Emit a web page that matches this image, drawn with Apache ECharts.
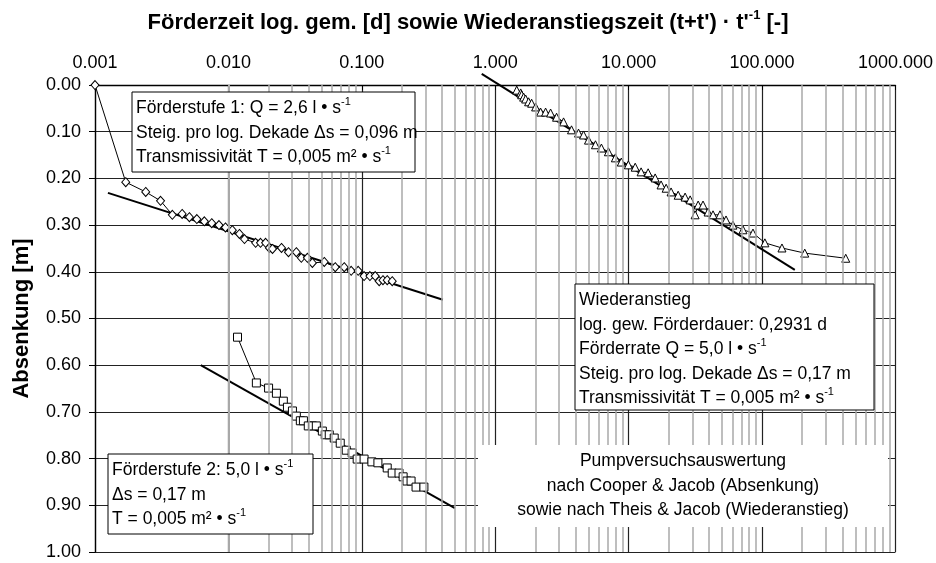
<!DOCTYPE html>
<html>
<head>
<meta charset="utf-8">
<script src="https://cdn.jsdelivr.net/npm/echarts@6/dist/echarts.min.js"></script>
<style>
  html, body { margin: 0; padding: 0; background: #fff; }
  #chart { width: 936px; height: 563px; }
</style>
</head>
<body>
<div id="chart"></div>
<script>
// Förderstufe 1 (Rauten)
const stufe1X = [0.001, 0.0017, 0.0024, 0.0031, 0.0038, 0.0045, 0.0051, 0.0058, 0.0066, 0.0075,
  0.0085, 0.0095, 0.0107, 0.0121, 0.0132, 0.0160, 0.0174, 0.0190, 0.0203, 0.0214, 0.0250, 0.0282,
  0.0323, 0.0352, 0.0391, 0.0426, 0.0523, 0.0632, 0.0738, 0.0832, 0.0939, 0.104, 0.115, 0.126,
  0.135, 0.144, 0.155, 0.169]
const stufe1Y = [0.000, 0.208, 0.229, 0.248, 0.278, 0.276, 0.283, 0.287, 0.292, 0.296,
  0.300, 0.305, 0.311, 0.319, 0.330, 0.338, 0.338, 0.338, 0.349, 0.351, 0.349, 0.358,
  0.358, 0.370, 0.370, 0.381, 0.379, 0.390, 0.390, 0.398, 0.398, 0.409, 0.409, 0.409,
  0.420, 0.418, 0.418, 0.420]

// Förderstufe 2 (Quadrate)
const stufe2X = [0.0117, 0.0162, 0.0200, 0.0229, 0.0258, 0.0277, 0.0302, 0.0323, 0.0346, 0.0365,
  0.0397, 0.0426, 0.0456, 0.0506, 0.0532, 0.0570, 0.0621, 0.0689, 0.0764, 0.0847, 0.0923, 0.104,
  0.119, 0.132, 0.155, 0.169, 0.190, 0.204, 0.218, 0.234, 0.255, 0.292]
const stufe2Y = [0.540, 0.638, 0.649, 0.660, 0.677, 0.690, 0.698, 0.709, 0.719, 0.719,
  0.730, 0.730, 0.730, 0.741, 0.749, 0.749, 0.756, 0.767, 0.782, 0.788, 0.801, 0.801,
  0.807, 0.809, 0.820, 0.831, 0.831, 0.839, 0.848, 0.848, 0.861, 0.861]

// Wiederanstieg (Dreiecke)
const wiederX = [1.449, 1.552, 1.578, 1.633, 1.690, 1.779, 1.874, 2.008, 2.188, 2.385, 2.600, 2.882,
  3.252, 3.73, 4.21, 4.59, 5.00, 5.64, 6.25, 7.05, 7.95, 8.81, 9.95, 11.2, 12.4, 14.0, 15.8, 17.5,
  19.1, 20.8, 23.5, 26.5, 28.9, 31.5, 33.2, 36.1, 39.4, 42.9, 48.4, 53.7, 60.5, 71.9, 85.5, 105,
  141, 209, 424]
const wiederY = [0.011, 0.017, 0.021, 0.026, 0.030, 0.036, 0.039, 0.047, 0.058, 0.058, 0.060, 0.069,
  0.079, 0.096, 0.103, 0.107, 0.118, 0.128, 0.135, 0.143, 0.156, 0.165, 0.171, 0.176, 0.186, 0.188,
  0.199, 0.214, 0.221, 0.229, 0.236, 0.240, 0.246, 0.278, 0.257, 0.257, 0.272, 0.278, 0.278, 0.289,
  0.300, 0.310, 0.317, 0.338, 0.349, 0.360, 0.371]

// Ausgleichsgeraden (Anfang, Ende)
const fit1X = [0.00125, 0.405]
const fit1Y = [0.231, 0.460]
const fit2X = [0.0062, 0.498]
const fit2Y = [0.600, 0.906]
const fit3X = [0.792, 176]
const fit3Y = [-0.024, 0.396]

// Zwischenlinien 2..9 je Dekade
const decades = [0.001, 0.01, 0.1, 1, 10, 100]
const minorSteps = [2, 3, 4, 5, 6, 7, 8, 9]

const FONT = "'Liberation Sans', Arial, sans-serif"
const pairs = (xs, ys) => xs.map((x, i) => [x, ys[i]])

const minorLines = []
decades.forEach(d => minorSteps.forEach(k => minorLines.push({ xAxis: +(d * k).toPrecision(6) })))

const chart = echarts.init(document.getElementById('chart'))

const txt = { fontSize: 17.5, fontFamily: FONT, color: '#000', lineHeight: 24.5 }
const sup = { fontSize: 11, fontFamily: FONT, color: '#000', verticalAlign: 'top', lineHeight: 24.5 }

// Textkasten mit Rahmen
const box = (x, y, w, h, text, border) => ({
  type: 'group',
  x: x,
  y: y,
  children: [
    {
      type: 'rect',
      z: 100,
      shape: { x: 0, y: 0, width: w, height: h },
      style: { fill: '#fff', stroke: border ? '#000' : null, lineWidth: 1 }
    },
    {
      type: 'text',
      z: 101,
      x: 4,
      y: 4,
      style: { text: text, rich: { t: txt, s: sup }, fill: '#000', font: '17.5px ' + FONT, lineHeight: 24.5 }
    }
  ]
})

const option = {
  animation: false,
  backgroundColor: '#fff',
  title: {
    left: 'center',
    top: 4,
    text: "{b|Förderzeit log. gem. [d] sowie Wiederanstiegszeit (t+t') · t'}{s|-1}{b| [-]}",
    textStyle: {
      rich: {
        b: { fontSize: 22, fontWeight: 'bold', fontFamily: FONT, color: '#000', lineHeight: 28 },
        s: { fontSize: 13, fontWeight: 'bold', fontFamily: FONT, color: '#000', verticalAlign: 'top', lineHeight: 28 }
      }
    }
  },
  grid: { left: 95, top: 85, right: 38, bottom: 11 },
  xAxis: {
    type: 'log',
    logBase: 10,
    position: 'top',
    min: 0.001,
    max: 1000,
    axisLine: { lineStyle: { color: '#000', width: 1.3 } },
    axisTick: { show: true, inside: true, length: 5, lineStyle: { color: '#000' } },
    axisLabel: {
      fontSize: 18, fontFamily: FONT, color: '#000', margin: 13,
      formatter: v => v.toFixed(3)
    },
    splitLine: { show: true, lineStyle: { color: '#222', width: 1.2 } }
  },
  yAxis: {
    type: 'value',
    inverse: true,
    min: 0,
    max: 1,
    interval: 0.1,
    name: 'Absenkung [m]',
    nameLocation: 'middle',
    nameGap: 62,
    nameTextStyle: { fontSize: 22, fontWeight: 'bold', fontFamily: FONT, color: '#000' },
    axisLine: { show: true, lineStyle: { color: '#000', width: 1.3 } },
    axisTick: { show: true, length: 6, lineStyle: { color: '#000' } },
    axisLabel: {
      fontSize: 18, fontFamily: FONT, color: '#000', margin: 14,
      formatter: v => v.toFixed(2)
    },
    splitLine: { show: true, lineStyle: { color: '#222', width: 1.2 } }
  },
  series: [
    {
      type: 'line',
      data: [],
      z: -5,
      silent: true,
      markLine: {
        silent: true,
        symbol: 'none',
        label: { show: false },
        lineStyle: { color: '#a8a8a8', width: 1.5, type: 'solid' },
        data: minorLines
      }
    },
    {
      type: 'line', data: pairs(fit1X, fit1Y), symbol: 'none', clip: false,
      lineStyle: { color: '#000', width: 2 }
    },
    {
      type: 'line', data: pairs(fit2X, fit2Y), symbol: 'none', clip: false,
      lineStyle: { color: '#000', width: 2 }
    },
    {
      type: 'line', data: pairs(fit3X, fit3Y), symbol: 'none', clip: false,
      lineStyle: { color: '#000', width: 2 }
    },
    {
      type: 'line', data: pairs(stufe1X, stufe1Y), symbol: 'diamond', symbolSize: [8, 9], clip: false,
      lineStyle: { color: '#000', width: 1 },
      itemStyle: { color: '#fff', borderColor: '#000', borderWidth: 1 }
    },
    {
      type: 'line', data: pairs(stufe2X, stufe2Y), symbol: 'rect', symbolSize: 8, clip: false,
      lineStyle: { color: '#000', width: 1 },
      itemStyle: { color: '#fff', borderColor: '#000', borderWidth: 1 }
    },
    {
      type: 'line', data: pairs(wiederX, wiederY), symbol: 'triangle', symbolSize: 8, clip: false,
      lineStyle: { color: '#000', width: 1 },
      itemStyle: { color: '#fff', borderColor: '#000', borderWidth: 1 }
    }
  ],
  graphic: [
    box(132, 92, 283, 80,
      '{t|Förderstufe 1: Q = 2,6 l • s}{s|-1}\n{t|Steig. pro log. Dekade Δs = 0,096 m}\n{t|Transmissivität T = 0,005 m² • s}{s|-1}', true),
    box(575, 284, 299, 126,
      '{t|Wiederanstieg}\n{t|log. gew. Förderdauer: 0,2931 d}\n{t|Förderrate Q = 5,0 l • s}{s|-1}\n{t|Steig. pro log. Dekade Δs = 0,17 m}\n{t|Transmissivität T = 0,005 m² • s}{s|-1}', true),
    box(108, 454, 205, 80,
      '{t|Förderstufe 2: 5,0 l • s}{s|-1}\n{t|Δs = 0,17 m}\n{t|T = 0,005 m² • s}{s|-1}', true),
    {
      type: 'group',
      x: 478,
      y: 445,
      children: [
        { type: 'rect', z: 100, shape: { x: 0, y: 0, width: 410, height: 82 }, style: { fill: '#fff' } },
        {
          type: 'text',
          z: 101,
          x: 205,
          y: 4,
          style: {
            text: 'Pumpversuchsauswertung\nnach Cooper & Jacob (Absenkung)\nsowie nach Theis & Jacob (Wiederanstieg)',
            font: '17.5px ' + FONT, fill: '#000', align: 'center', lineHeight: 24.5
          }
        }
      ]
    }
  ]
}

chart.setOption(option)
</script>
</body>
</html>
